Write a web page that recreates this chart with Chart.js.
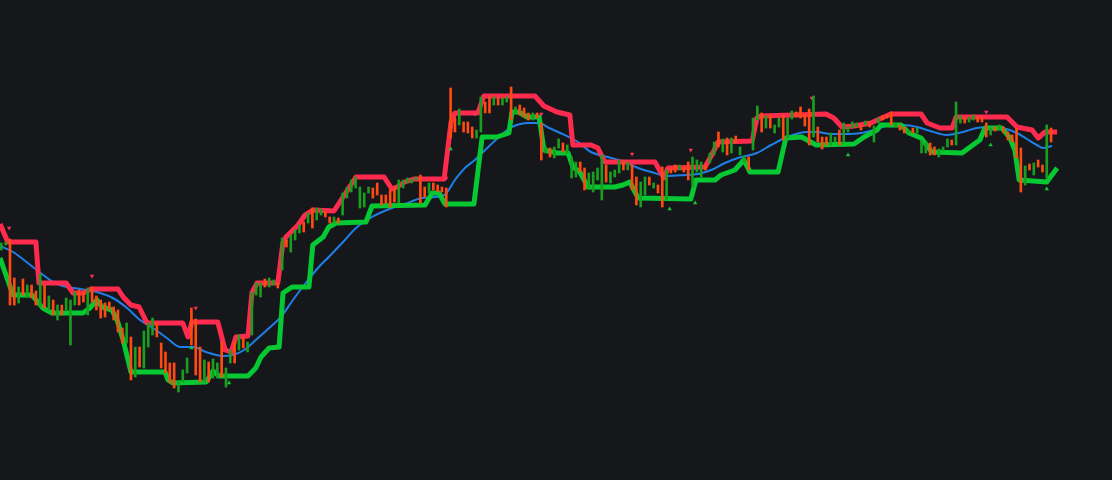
<!DOCTYPE html>
<html>
<head>
<meta charset="utf-8">
<script src="https://cdn.jsdelivr.net/npm/chart.js@4.4.1/dist/chart.umd.min.js"></script>
<style>
  html, body { margin: 0; padding: 0; background: #16171b; }
  #wrap { width: 1112px; height: 480px; position: relative; }
</style>
</head>
<body>
<div id="wrap"><canvas id="chart"></canvas></div>
<script>
// bar index of the first entry in the bar arrays
const firstBar = -2;

// per-bar high / low and direction (1 = up / green, 0 = down / red)
const barLow = [
  230,235,175,175,177,185,183,182,175,173,
  172,170,165,160,165,170,135,175,175,178,
  165,178,170,162,163,170,160,148,137,137,
  100,103,113,112,133,145,143,112,107,97,
  92,88,98,107,135,105,98,98,98,102,
  102,103,93,117,117,130,132,128,145,185,
  183,193,193,195,192,210,233,228,240,247,
  248,257,252,260,265,263,257,257,257,265,
  282,288,292,272,273,287,282,285,275,277,
  273,278,277,292,297,297,300,277,283,287,
  290,288,288,273,342,348,355,348,347,342,
  342,348,367,367,375,375,375,378,360,367,
  365,363,360,360,362,320,327,323,322,332,
  328,327,302,303,308,290,292,288,300,280,
  298,297,303,307,310,310,290,275,273,285,
  295,292,287,273,280,307,308,310,308,300,
  293,308,303,310,317,325,333,328,325,327,
  337,325,318,310,330,360,348,352,352,347,
  353,340,342,361,363,362,354,335,343,338,
  331,335,335,338,335,337,348,352,353,350,
  355,353,338,357,360,362,355,353,350,347,
  347,347,347,327,327,325,325,323,329,333,
  335,335,357,357,358,360,358,358,343,345,
  349,350,347,340,338,322,288,295,310,305,
  313,308,302,338
];
const barHigh = [
  237,238,241,202,193,201,195,195,189,206,
  195,184,180,175,175,182,180,188,190,188,
  192,193,184,180,177,178,173,170,152,157,
  143,133,133,149,157,162,157,137,128,117,
  117,98,110,122,172,161,133,120,118,121,
  117,138,112,130,138,145,142,138,188,197,
  197,201,202,200,197,242,240,245,250,255,
  258,267,272,272,271,268,263,263,262,287,
  293,300,303,293,287,293,292,297,285,285,
  290,293,300,300,302,301,303,305,293,297,
  297,295,293,292,392,362,371,358,358,353,
  350,383,378,383,383,382,382,383,393,373,
  375,372,367,367,367,357,333,332,333,341,
  337,335,323,318,318,312,307,308,312,325,
  315,308,310,320,318,318,315,303,298,303,
  303,297,295,313,310,312,315,315,313,318,
  323,320,318,315,327,338,348,341,342,342,
  344,333,324,323,362,374,367,364,365,355,
  362,365,362,369,368,373,366,371,384,353,
  343,343,347,343,350,357,353,358,357,355,
  359,358,354,362,364,365,368,357,355,353,
  350,352,352,340,337,337,333,331,333,341,
  340,378,364,362,363,365,363,363,357,352,
  353,355,353,348,345,352,332,314,316,317,
  320,315,355,352
];
const barUp = [
  1,1,0,0,1,0,1,0,0,1,
  0,1,0,1,0,1,1,1,0,0,
  1,0,0,0,0,0,0,0,0,1,
  0,1,0,1,1,1,0,0,0,0,
  0,1,1,1,0,0,0,1,0,1,
  1,0,1,1,0,1,0,1,1,1,
  1,0,1,1,0,1,0,1,1,1,
  0,1,0,1,1,0,0,1,0,1,
  1,1,1,1,1,1,0,0,0,0,
  0,0,1,1,1,1,1,0,0,1,
  0,0,0,0,0,0,1,0,0,0,
  1,1,0,0,1,0,1,1,0,1,
  0,0,0,1,0,0,1,0,1,1,
  0,1,1,1,0,0,1,1,1,1,
  0,1,1,1,0,1,0,0,1,1,
  0,1,0,0,1,0,0,1,0,0,
  1,1,1,0,1,1,0,1,0,1,
  0,1,1,0,1,1,0,1,0,1,
  1,0,1,1,0,0,0,0,1,0,
  0,0,1,1,0,1,1,1,1,0,
  1,0,1,1,0,0,0,1,0,0,
  1,0,1,1,1,0,0,1,1,1,
  0,1,1,0,1,1,0,0,0,1,
  0,1,0,0,0,0,0,1,0,1,
  0,0,1,0
];

// upper channel: [bar, value]
const upperBand = [
  [-2.3,256],[-0.5,238],[6.0,238],[6.7,197],[13.0,197],[14.6,187],[16.9,187],[18.8,191],
  [25.0,191],[26.2,183],[28.0,175],[29.9,173],[31.7,157],[40.0,157],[41.2,143],[42.1,158],
  [48.1,158],[49.8,130],[51.2,128],[52.3,143],[55.1,144],[56.0,187],[57.2,197],[62.0,197],
  [63.2,238],[63.9,243],[66.7,255],[68.3,265],[70.1,270],[75.0,269],[77.1,283],[80.1,303],
  [86.6,303],[88.4,291],[89.6,293],[91.4,298],[93.5,301],[100.5,301],[102.1,358],[103.0,367],
  [108.3,367],[109.7,384],[121.5,384],[123.6,374],[126.6,368],[129.6,365],[130.3,335],[134.5,335],
  [136.1,332],[137.7,318],[149.3,318],[151.4,302],[152.3,312],[160.9,313],[162.7,327],[163.9,338],
  [171.8,339],[172.9,362],[173.8,364],[188.9,366],[190.7,362],[192.6,353],[195.4,354],[199.3,357],
  [202.3,363],[203.9,366],[210.9,366],[212.3,357],[215.3,352],[218.1,352],[219.0,363],[230.8,363],
  [233.1,353],[236.6,350],[238.0,342],[239.6,348],[242.4,348]
];

// lower channel: [bar, value]
const lowerBand = [
  [-2.3,222],[0.7,185],[5.1,185],[7.6,172],[9.7,167],[16.9,167],[18.5,172],[20.1,180],
  [21.3,173],[23.6,170],[24.8,160],[26.2,140],[28.0,108],[35.9,108],[36.6,100],[37.7,97],
  [45.4,98],[47.0,109],[48.4,104],[55.1,104],[56.9,112],[58.1,123],[60.0,132],[62.3,133],
  [63.2,187],[65.3,193],[69.2,193],[70.1,235],[72.5,243],[73.8,253],[75.5,257],[82.4,258],
  [83.8,274],[96.1,275],[97.7,287],[99.3,287],[100.7,276],[107.4,276],[109.3,343],[112.7,343],
  [115.5,347],[116.2,368],[117.8,368],[119.7,363],[122.5,363],[123.6,330],[126.6,327],[129.2,327],
  [130.3,313],[131.9,308],[133.8,293],[140.0,293],[141.9,295],[143.5,298],[145.4,282],[157.6,281],
  [158.8,300],[163.2,300],[164.6,305],[167.8,310],[169.9,320],[171.3,308],[177.8,308],[179.6,342],
  [183.3,343],[186.6,335],[195.4,336],[197.7,343],[200.7,350],[201.6,355],[206.3,355],[208.1,347],
  [210.9,342],[213.4,328],[220.4,327],[222.9,335],[224.5,340],[225.7,352],[229.6,352],[231.5,342],
  [232.6,330],[233.6,300],[240.0,298],[242.4,312]
];

// moving average: [bar, value]
const maLine = [
  [-2.3,234],[0.7,228],[5.3,213],[10.0,198],[13.2,193],[16.2,191],[20.1,188],[23.8,182],
  [27.1,172],[30.1,160],[33.1,152],[36.3,142],[39.4,133],[42.4,133],[45.4,128],[49.3,124],
  [51.6,125],[54.2,130],[56.9,140],[60.0,152],[62.7,163],[65.5,180],[68.1,195],[71.5,213],
  [73.8,223],[77.1,238],[80.1,252],[83.8,263],[88.4,272],[91.4,276],[95.4,282],[100.5,285],
  [103.0,300],[105.3,312],[107.6,320],[110.0,330],[113.2,343],[116.2,353],[120.1,357],[122.5,357],
  [124.8,352],[126.9,348],[131.5,338],[134.5,328],[138.4,323],[142.4,318],[145.4,312],[148.4,308],
  [152.3,304],[156.3,305],[159.3,306],[162.3,310],[165.5,317],[168.5,322],[172.9,327],[176.2,335],
  [179.9,343],[184.5,348],[186.8,348],[190.0,346],[193.1,346],[197.0,347],[200.7,351],[203.9,355],
  [206.9,355],[210.0,353],[213.0,349],[216.9,345],[220.6,348],[223.8,352],[226.9,353],[229.9,352],
  [233.1,347],[235.4,341],[237.7,335],[239.1,332],[241.2,334]
];

// signal markers: [bar, value]
const sellSignals = [
  [-0.2,252],[19,204],[43,172],[101,302],[107.6,366],[123,366],[144,326],[157.6,330],[185.6,382],[226,368]
];
const buySignals = [
  [42,132],[50.7,97],[102,331],[152.7,271],[158.6,277],[194,325],[227,335],[240,291]
];

const UP = '#1a9e1f';
const DOWN = '#ff4a12';

function toPoints(pairs) {
  return pairs.map(p => ({ x: p[0], y: p[1] }));
}

const barData = barLow.map((lo, i) => ({ x: i + firstBar, y: [lo, barHigh[i]] }));
const barColors = barUp.map(u => (u ? UP : DOWN));

new Chart(document.getElementById('chart'), {
  type: 'bar',
  data: {
    datasets: [
      {
        type: 'bar',
        data: barData,
        backgroundColor: barColors,
        borderWidth: 0,
        barThickness: 2,
        order: 0,
      },
      {
        type: 'scatter',
        data: toPoints(sellSignals),
        pointStyle: 'triangle',
        rotation: 180,
        pointRadius: 2.5,
        backgroundColor: '#ff3358',
        borderWidth: 0,
        order: 0,
      },
      {
        type: 'scatter',
        data: toPoints(buySignals),
        pointStyle: 'triangle',
        pointRadius: 2.5,
        backgroundColor: '#14c83a',
        borderWidth: 0,
        order: 0,
      },
      {
        type: 'line',
        data: toPoints(upperBand),
        borderColor: '#ff2b4f',
        borderWidth: 5,
        pointRadius: 0,
        tension: 0,
        borderJoinStyle: 'round',
        order: 1,
      },
      {
        type: 'line',
        data: toPoints(lowerBand),
        borderColor: '#06c832',
        borderWidth: 5,
        pointRadius: 0,
        tension: 0,
        borderJoinStyle: 'round',
        order: 2,
      },
      {
        type: 'line',
        data: toPoints(maLine),
        borderColor: '#1e7fe8',
        borderWidth: 2,
        pointRadius: 0,
        cubicInterpolationMode: 'monotone',
        order: 3,
      },
    ]
  },
  options: {
    animation: false,
    responsive: true,
    maintainAspectRatio: false,
    layout: { padding: 0, autoPadding: false },
    scales: {
      x: { type: 'linear', display: false, offset: false, min: -2.31, max: 255.1 },
      y: { type: 'linear', display: false, min: 0, max: 480 }
    },
    plugins: {
      legend: { display: false },
      tooltip: { enabled: false }
    }
  }
});
</script>
</body>
</html>
